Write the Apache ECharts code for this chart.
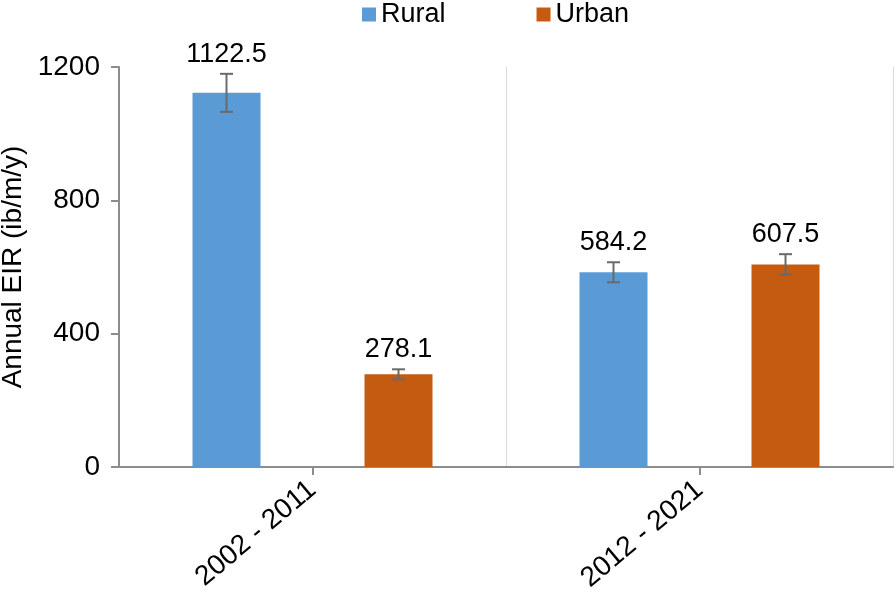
<!DOCTYPE html>
<html>
<head>
<meta charset="utf-8">
<script src="https://cdn.jsdelivr.net/npm/echarts@6/dist/echarts.min.js"></script>
<style>html,body{margin:0;padding:0;background:#fff;}#c{width:896px;height:592px;}</style>
</head>
<body>
<div id="c"></div>
<script>
var categories = ['2002 - 2011', '2012 - 2021'];
var seriesNames = ['Rural', 'Urban'];
var ruralValues = [1122.5, 584.2];
var urbanValues = [278.1, 607.5];
var ruralErrors = [57, 30];
var urbanErrors = [15, 31];
var yTicks = [0, 400, 800, 1200];

var FONT = 'Liberation Sans';
var FS = 27;
var BAR_W = 68;
var BAR_GAP = 104 / 68;
var colors = ['#5B9BD5', '#C55A11'];

function errSeries(vals, errs, sign, name) {
  var data = vals.map(function (v, i) { return [i, v, errs[i]]; });
  return {
    type: 'custom',
    name: name + ' err',
    xAxisIndex: 0, yAxisIndex: 0,
    z: 5,
    silent: true,
    data: data,
    renderItem: function (params, api) {
      var idx = api.value(0), v = api.value(1), e = api.value(2);
      var off = sign * (BAR_W + BAR_W * BAR_GAP) / 2;
      var top = api.coord([idx, v + e]);
      var bot = api.coord([idx, v - e]);
      var x = top[0] + off;
      var cap = 6.5;
      var st = { stroke: '#6a6a6a', lineWidth: 2 };
      return {
        type: 'group',
        children: [
          { type: 'line', shape: { x1: x, y1: top[1], x2: x, y2: bot[1] }, style: st },
          { type: 'line', shape: { x1: x - cap, y1: top[1], x2: x + cap, y2: top[1] }, style: st },
          { type: 'line', shape: { x1: x - cap, y1: bot[1], x2: x + cap, y2: bot[1] }, style: st },
          { type: 'text', x: x, y: top[1] - 6, style: { text: v.toFixed(1), fill: '#000', font: FS + 'px "' + FONT + '"', textAlign: 'center', textVerticalAlign: 'bottom' } }
        ]
      };
    }
  };
}

var chart = echarts.init(document.getElementById('c'), null, { renderer: 'canvas' });
chart.setOption({
  animation: false,
  textStyle: { fontFamily: FONT },
  color: colors,
  legend: {
    data: seriesNames,
    top: -4,
    left: 357,
    itemWidth: 14, itemHeight: 14,
    itemGap: 91,
    icon: 'rect',
    textStyle: { fontSize: FS, color: '#000', fontFamily: FONT }
  },
  grid: { left: 119, right: 3, top: 67, bottom: 125, containLabel: false, outerBoundsMode: 'none' },
  xAxis: [{
    type: 'category',
    data: categories,
    axisLine: { lineStyle: { color: '#8c8c8c', width: 2 } },
    axisTick: { show: true, alignWithLabel: true, length: 8, lineStyle: { color: '#8c8c8c', width: 2 } },
    axisLabel: { rotate: 40, fontSize: 28, color: '#000', fontFamily: FONT, margin: 19 },
    splitLine: { show: false }
  }, {
    type: 'category',
    data: categories,
    position: 'bottom',
    axisLine: { show: false },
    axisTick: { show: false },
    axisLabel: { show: false },
    splitLine: { show: true, lineStyle: { color: '#d9d9d9', width: 1 } }
  }],
  yAxis: {
    type: 'value',
    min: 0, max: 1200, interval: 400,
    axisLine: { show: true, lineStyle: { color: '#8c8c8c', width: 2 } },
    axisTick: { show: true, length: 8, lineStyle: { color: '#8c8c8c', width: 2 } },
    axisLabel: { fontSize: 28, color: '#000', fontFamily: FONT, margin: 19,
      formatter: function (v) { return yTicks.indexOf(v) >= 0 ? String(v) : ''; } },
    splitLine: { show: false },
    name: 'Annual EIR (ib/m/y)',
    nameLocation: 'middle',
    nameRotate: 90,
    nameGap: 87,
    nameTextStyle: { fontSize: 28, color: '#000', fontFamily: FONT }
  },
  series: [
    { name: 'Rural', type: 'bar', data: ruralValues, barWidth: BAR_W, barGap: (BAR_GAP * 100) + '%', itemStyle: { color: colors[0] } },
    { name: 'Urban', type: 'bar', data: urbanValues, barWidth: BAR_W, barGap: (BAR_GAP * 100) + '%', itemStyle: { color: colors[1] } },
    errSeries(ruralValues, ruralErrors, -1, 'Rural'),
    errSeries(urbanValues, urbanErrors, 1, 'Urban')
  ]
});
</script>
</body>
</html>
